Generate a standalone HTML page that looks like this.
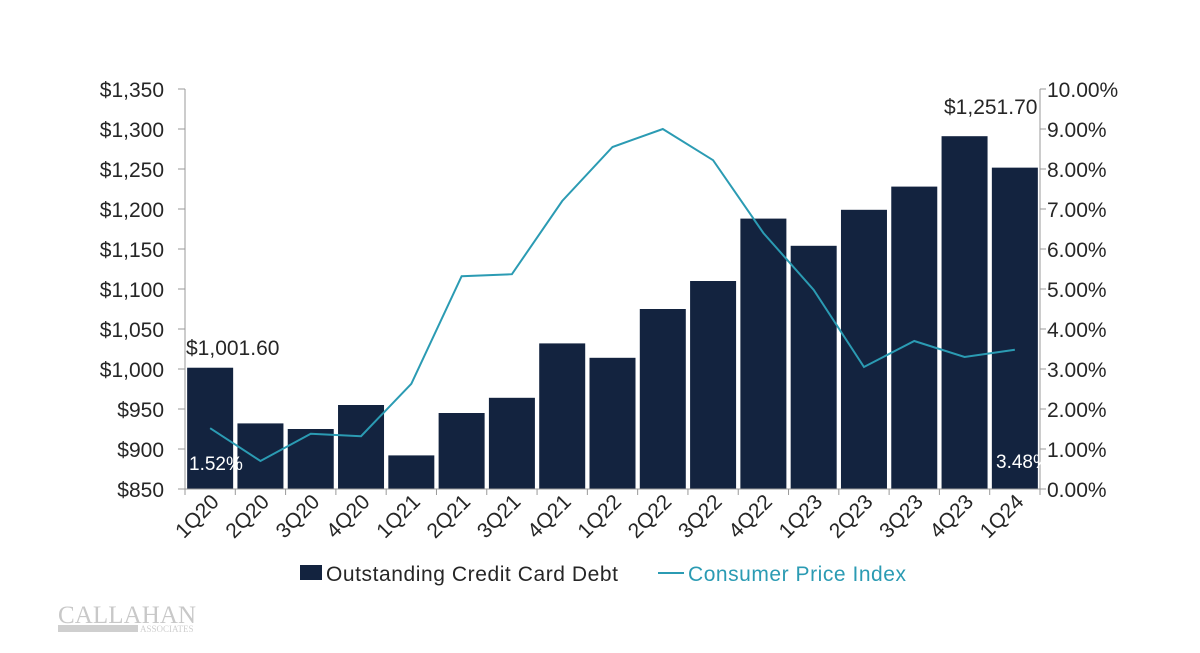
<!DOCTYPE html>
<html><head><style>body{margin:0;background:#fff}svg{display:block}text{font-family:"Liberation Sans",Arial,sans-serif}</style></head><body>
<svg width="1200" height="653" viewBox="0 0 1200 653" xmlns="http://www.w3.org/2000/svg">
<rect width="1200" height="653" fill="#fff"/>
<g fill="#262626" font-size="21" text-anchor="end">
<text x="164" y="97">$1,350</text><text x="164" y="137">$1,300</text><text x="164" y="177">$1,250</text><text x="164" y="217">$1,200</text><text x="164" y="257">$1,150</text><text x="164" y="297">$1,100</text><text x="164" y="337">$1,050</text><text x="164" y="377">$1,000</text><text x="164" y="417">$950</text><text x="164" y="457">$900</text><text x="164" y="497">$850</text>
</g>
<g fill="#262626" font-size="21" text-anchor="start">
<text x="1047" y="97">10.00%</text><text x="1047" y="137">9.00%</text><text x="1047" y="177">8.00%</text><text x="1047" y="217">7.00%</text><text x="1047" y="257">6.00%</text><text x="1047" y="297">5.00%</text><text x="1047" y="337">4.00%</text><text x="1047" y="377">3.00%</text><text x="1047" y="417">2.00%</text><text x="1047" y="457">1.00%</text><text x="1047" y="497">0.00%</text>
</g>
<g id="bars" fill="#13233f"></g>
<g stroke="#999" stroke-width="1" fill="none">
<path d="M185 89V489H1040V89"/>
<path d="M178 89H185M178 129H185M178 169H185M178 209H185M178 249H185M178 289H185M178 329H185M178 369H185M178 409H185M178 449H185M178 489H185"/>
<path d="M1040 89H1046M1040 129H1046M1040 169H1046M1040 209H1046M1040 249H1046M1040 289H1046M1040 329H1046M1040 369H1046M1040 409H1046M1040 449H1046M1040 489H1046"/>
<path id="xt" d=""/>
</g>
<polyline id="cpi" fill="none" stroke="#2b9bb3" stroke-width="2" points=""/>
<g id="xl" fill="#262626" font-size="21"></g>
<text x="186" y="355" font-size="21" fill="#262626">$1,001.60</text>
<text x="944" y="114" font-size="21" fill="#262626">$1,251.70</text>
<text x="189" y="470" font-size="19" fill="#fff">1.52%</text>
<text x="996" y="468" font-size="19" fill="#fff">3.48%</text>
<rect x="300" y="565" width="22" height="15" fill="#13233f"/>
<text x="326" y="581" font-size="21" fill="#262626" textLength="292">Outstanding Credit Card Debt</text>
<line x1="658" y1="573" x2="684" y2="573" stroke="#2b9bb3" stroke-width="2"/>
<text x="688" y="581" font-size="21" fill="#2b9bb3" textLength="218">Consumer Price Index</text>
<text x="58" y="623" font-size="25" fill="#c8c8c8" style="font-family:'Liberation Serif',serif" textLength="138">CALLAHAN</text>
<rect x="58" y="625" width="80" height="7" fill="#cfcfcf"/>
<text x="140" y="632" font-size="9" fill="#cfcfcf" style="font-family:'Liberation Serif',serif">ASSOCIATES</text>
<script>
var debt=[1001.6,932,925,955,892,945,964,1032,1014,1075,1110,1188,1154,1199,1228,1291,1251.7];
var cpi=[1.52,0.7,1.38,1.32,2.63,5.32,5.37,7.2,8.55,9.0,8.22,6.4,4.98,3.05,3.7,3.3,3.48];
var lab=["1Q20","2Q20","3Q20","4Q20","1Q21","2Q21","3Q21","4Q21","1Q22","2Q22","3Q22","4Q22","1Q23","2Q23","3Q23","4Q23","1Q24"];
var ns="http://www.w3.org/2000/svg",w=855/17,b=document.getElementById("bars"),pts=[],xt="",xl=document.getElementById("xl");
for(var i=0;i<17;i++){var cx=185+w*(i+.5);var y=489-(debt[i]-850)*0.8;
var r=document.createElementNS(ns,"rect");r.setAttribute("x",cx-23);r.setAttribute("width",46);r.setAttribute("y",y);r.setAttribute("height",489-y);b.appendChild(r);
pts.push(cx+","+(489-cpi[i]*40));xt+="M"+(185+w*i)+" 489V495";
var t=document.createElementNS(ns,"text");t.setAttribute("text-anchor","end");t.setAttribute("transform","translate("+(cx+10)+",503) rotate(-45)");t.textContent=lab[i];xl.appendChild(t);}
xt+="M1040 489V495";
document.getElementById("xt").setAttribute("d",xt);document.getElementById("cpi").setAttribute("points",pts.join(" "));
</script>
</svg>
</body></html>
